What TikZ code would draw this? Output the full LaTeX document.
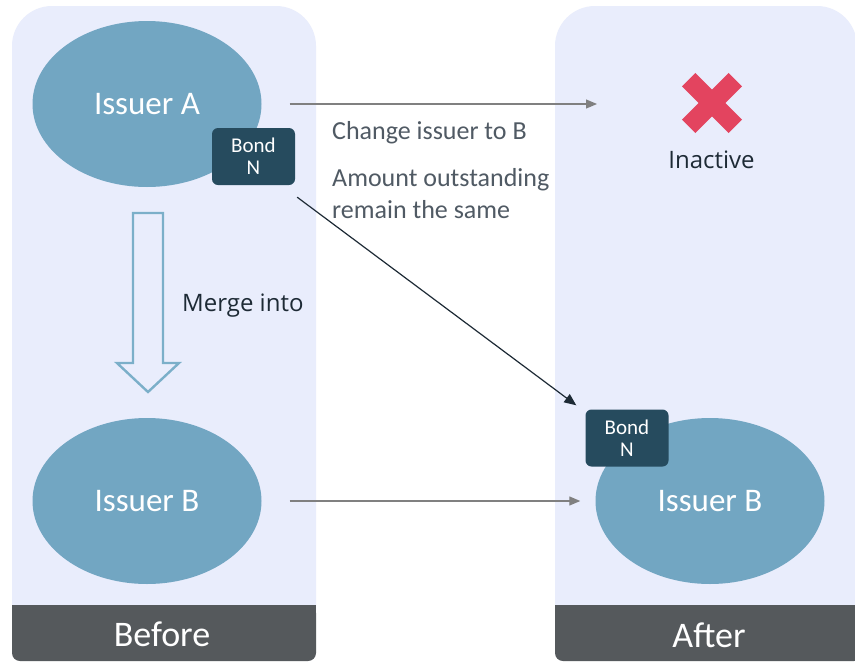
\documentclass[tikz,border=0pt]{standalone}
\usepackage{fontspec}
\setmainfont{Carlito}
\newfontfamily\robo{Open Sans}
\usetikzlibrary{arrows.meta,shapes.geometric}
\definecolor{panel}{HTML}{E9EDFC}
\definecolor{ell}{HTML}{72A6C2}
\definecolor{bondc}{HTML}{264B5E}
\definecolor{barc}{HTML}{55595C}
\definecolor{crossc}{HTML}{E3445F}
\definecolor{darktext}{HTML}{1D2A35}
\definecolor{graytext}{HTML}{505A64}
\definecolor{garrowc}{HTML}{808080}
\definecolor{hollowc}{HTML}{7BAFC9}
\tikzset{
  issuer/.style={ellipse, fill=ell, minimum width=229, minimum height=166, inner sep=0, text=white, font=\fontsize{33}{36}\selectfont},
  bondbox/.style={rectangle, rounded corners=6, fill=bondc, minimum width=83, minimum height=57, inner sep=0, text=white, align=center, font=\fontsize{21}{22}\selectfont},
  barlabel/.style={text=white, inner sep=0, font=\fontsize{36}{40}\selectfont},
  graylabel/.style={text=graytext, inner sep=0, align=left, font=\fontsize{26}{32}\selectfont},
  darklabel/.style={text=darktext, inner sep=0, font=\robo\fontsize{24}{28}\selectfont},
  garrow/.style={draw=garrowc, line width=1.2pt, -{Triangle[length=11pt,width=9pt]}},
  darrow/.style={draw=darktext, line width=1.2pt, -{Triangle[length=12pt,width=10pt]}},
  crossarm/.style={fill=crossc, minimum width=66, minimum height=19, inner sep=0}
}
\begin{document}
\begin{tikzpicture}[x=1pt,y=-1pt]
\clip (0,0) rectangle (855,662);
\fill[white] (0,0) rectangle (855,662);
% panels
\fill[panel, rounded corners=40] (12,650) -- (12,6) -- (316,6) -- (316,650) -- cycle;
\fill[barc, rounded corners=8] (12,605) rectangle (316,661);
\fill[barc] (12,605) rectangle (316,620);
\fill[panel, rounded corners=40] (555,650) -- (555,6) -- (857,6) -- (857,650) -- cycle;
\fill[barc, rounded corners=8] (555,605) rectangle (862,661);
\fill[barc] (555,605) rectangle (862,620);
\node[barlabel] (before) at (162,634) {Before};
\node[barlabel] (after) at (709,635) {After};
% issuers
\node[issuer] (eA) at (147,104) {Issuer A};
\node[bondbox] (bondA) at (253.5,156.5) {Bond\\N};
\node[issuer] (eB1) at (147,501) {Issuer B};
\node[issuer] (eB2) at (710,501) {Issuer B};
\node[bondbox] (bondB) at (627,438) {Bond\\N};
% cross
\node[crossarm, rotate=45] (xa) at (712,103) {};
\node[crossarm, rotate=-45] (xb) at (712,103) {};
\node[darklabel, anchor=base] (inactive) at (711.5,168) {Inactive};
\coordinate (xend) at (597,104);
% texts
\node[graylabel, anchor=base west] (chg) at (332,139) {Change issuer to B};
\node[graylabel, anchor=base west] (amt) at (332,218) {Amount outstanding\\remain the same};
\node[darklabel, anchor=base west] (merge) at (182,311) {Merge into};
% arrows
\draw[garrow] ([xshift=28]eA.east) -- (xend);
\draw[darrow] ([shift={(2,12)}]bondA.south east) -- ([shift={(-9,-4)}]bondB.north west);
\draw[garrow] ([xshift=28]eB1.east) -- ([xshift=-15]eB2.west);
% hollow merge arrow
\draw[hollowc, line width=2.4pt, line join=miter] (133,213) -- (163,213) -- (163,363) -- (179,363) -- (148,392) -- (117,363) -- (133,363) -- cycle;
\end{tikzpicture}
\end{document}
